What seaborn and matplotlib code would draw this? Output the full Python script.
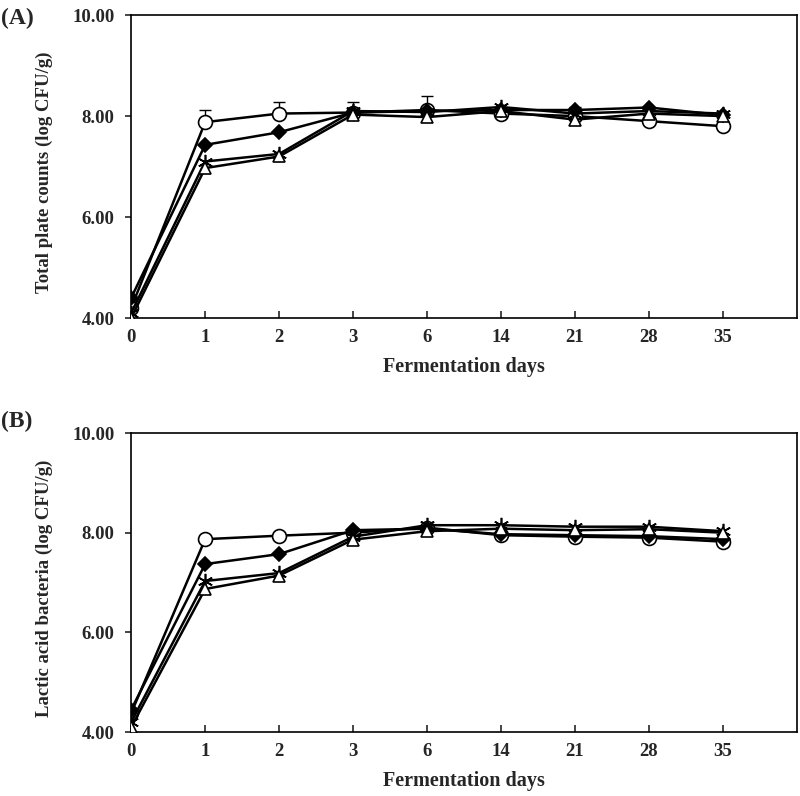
import numpy as np
import pandas as pd
import matplotlib
matplotlib.use("Agg")
import matplotlib.pyplot as plt
import seaborn as sns

days = ["0", "1", "2", "3", "6", "14", "21", "28", "35"]
groups = ["circle", "diamond", "star", "triangle"]

# total plate counts (A)
tpc_circle = [4.20, 7.88, 8.05, 8.07, 8.12, 8.05, 8.00, 7.90, 7.80]
tpc_diamond = [4.40, 7.43, 7.68, 8.07, 8.10, 8.12, 8.12, 8.17, 8.02]
tpc_star = [4.10, 7.10, 7.25, 8.10, 8.08, 8.18, 8.05, 8.10, 8.05]
tpc_triangle = [4.00, 6.97, 7.20, 8.03, 7.98, 8.10, 7.93, 8.05, 8.00]
tpc_err = [0.05, 0.24, 0.22, 0.20, 0.27, 0.08, 0.18, 0.05, 0.05]

# lactic acid bacteria (B)
lab_circle = [4.38, 7.87, 7.94, 8.00, 8.10, 7.95, 7.92, 7.90, 7.82]
lab_diamond = [4.45, 7.37, 7.57, 8.05, 8.08, 7.97, 7.95, 7.93, 7.87]
lab_star = [4.20, 7.03, 7.19, 7.92, 8.15, 8.15, 8.12, 8.12, 8.03]
lab_triangle = [4.10, 6.87, 7.14, 7.86, 8.03, 8.08, 8.05, 8.07, 8.00]
lab_err = [0.03, 0.03, 0.05, 0.05, 0.06, 0.05, 0.05, 0.05, 0.05]

markers = {"circle": "o", "diamond": "D", "star": (6, 2, 0), "triangle": "^"}
fills = {"circle": "white", "diamond": "black", "star": "black", "triangle": "white"}
msizes = {"circle": 10, "diamond": 7, "star": 11, "triangle": 9}

sns.set_style("ticks")
plt.rcParams["font.family"] = ["Liberation Serif", "DejaVu Serif"]
plt.rcParams["font.weight"] = "bold"

fig = plt.figure(figsize=(8, 7.96), dpi=100)
axA = fig.add_axes([0.164, 0.6005, 0.832, 0.3805])
axB = fig.add_axes([0.164, 0.0804, 0.832, 0.3756])


def draw_panel(ax, series, err, ylabel, tag, tag_y):
    x = np.arange(len(days))
    rows = []
    for g, vals in zip(groups, series):
        for i, v in enumerate(vals):
            rows.append({"pos": x[i], "val": v, "group": g})
    df = pd.DataFrame(rows)
    # error bars (upper only) for the circle series
    ax.errorbar(x, series[0], yerr=[np.zeros(len(err)), err], fmt="none",
                ecolor="black", elinewidth=1, capsize=4, capthick=1, zorder=1)
    for g in groups:
        sub = df[df["group"] == g]
        sns.lineplot(data=sub, x="pos", y="val", ax=ax, color="black",
                     linewidth=1.8, marker=markers[g], markersize=msizes[g],
                     markerfacecolor=fills[g], markeredgecolor="black",
                     markeredgewidth=1.2, zorder=3, legend=False)
    ax.set_xlim(0, 9)
    ax.set_ylim(4, 10)
    ax.set_xticks(x)
    ax.set_xticklabels(days, fontsize=13.5, fontweight="bold")
    ax.set_yticks([4, 6, 8, 10])
    ax.set_yticklabels(["%.2f" % t for t in [4, 6, 8, 10]], fontsize=13.5,
                       fontweight="bold")
    ax.tick_params(axis="x", direction="in", length=5, width=1.2, pad=8)
    ax.tick_params(axis="y", direction="out", length=4, width=1.2, pad=8)
    for s in ax.spines.values():
        s.set_linewidth(1.2)
        s.set_color("black")
    ax.set_xlabel("Fermentation days", fontsize=14.5, fontweight="bold",
                  labelpad=8)
    ax.set_ylabel(ylabel, fontsize=13.5, fontweight="bold")
    ax.yaxis.set_label_coords(-0.118, 0.48)
    ax.text(-0.196, tag_y, tag, transform=ax.transAxes, fontsize=17,
            fontweight="bold", ha="left", va="center")


draw_panel(axA, [tpc_circle, tpc_diamond, tpc_star, tpc_triangle], tpc_err,
           "Total plate counts (log CFU/g)", "(A)", 0.99)
draw_panel(axB, [lab_circle, lab_diamond, lab_star, lab_triangle], lab_err,
           "Lactic acid bacteria (log CFU/g)", "(B)", 1.04)

fig.savefig("out.png", dpi=100)
